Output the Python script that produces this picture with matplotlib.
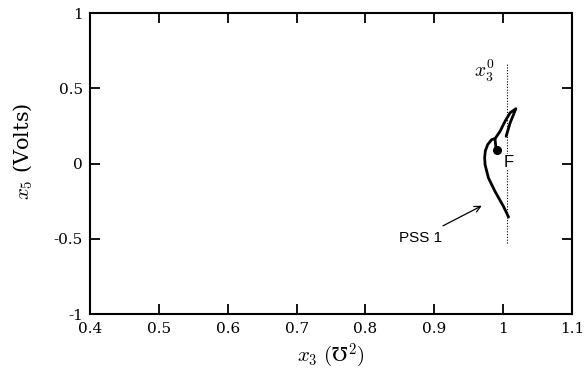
import matplotlib
matplotlib.use("Agg")
import matplotlib.pyplot as plt

plt.rcParams["mathtext.fontset"] = "cm"

# PSS 1 trajectory in the (x3, x5) plane
traj_x3 = [1.0042, 1.0100, 1.0150, 1.0183, 1.0100, 1.0027, 0.9954, 0.9880,
           0.9833, 0.9775, 0.9740, 0.9730, 0.9736, 0.9785, 0.9881, 1.0004,
           1.0077]
traj_x5 = [0.182, 0.271, 0.327, 0.365, 0.338, 0.282, 0.215, 0.165,
           0.160, 0.127, 0.085, 0.040, -0.007, -0.095, -0.185, -0.285,
           -0.355]
# short branch ending at the equilibrium point
branch_x3 = [0.9880, 0.9892, 0.9906]
branch_x5 = [0.165, 0.115, 0.089]
eq_x3, eq_x5 = 0.9906, 0.089

x30 = 1.006                 # reference value x3^0
x30_span = [-0.53, 0.67]

xticks = [0.4, 0.5, 0.6, 0.7, 0.8, 0.9, 1.0, 1.1]
xtick_labels = ["0.4", "0.5", "0.6", "0.7", "0.8", "0.9", "1", "1.1"]
yticks = [-1, -0.5, 0, 0.5, 1]
ytick_labels = ["-1", "-0.5", "0", "0.5", "1"]

fig = plt.figure(figsize=(5.88, 3.74), dpi=100)
ax = fig.add_axes([0.153, 0.160, 0.820, 0.805])

ax.plot([x30, x30], x30_span, color="black", lw=0.8, linestyle=(0, (1, 1.5)))
ax.plot(traj_x3, traj_x5, color="black", lw=2.0, solid_capstyle="round",
        solid_joinstyle="round")
ax.plot(branch_x3, branch_x5, color="black", lw=2.0)
ax.plot(eq_x3, eq_x5, "o", color="black", markersize=5.5)

ax.text(x30 - 0.034, 0.613, r"$x_3^0$", fontsize=14, ha="center", va="center")
ax.text(1.0085, 0.01, "F", fontsize=12, family="Liberation Sans",
        ha="center", va="center",
        bbox=dict(facecolor="white", edgecolor="none", pad=0.5))
ax.annotate("PSS 1", xy=(0.9688, -0.28), xytext=(0.9110, -0.491),
            fontsize=11, family="Liberation Sans", ha="right", va="center",
            arrowprops=dict(arrowstyle="->", color="black", lw=0.9,
                            shrinkA=3, shrinkB=0))

ax.set_xlim(0.4, 1.1)
ax.set_ylim(-1, 1)
ax.set_xticks(xticks)
ax.set_xticklabels(xtick_labels)
ax.set_yticks(yticks)
ax.set_yticklabels(ytick_labels)
ax.tick_params(direction="in", length=7, width=1.3, top=True, right=True,
               labelsize=11)
for lab in ax.get_xticklabels() + ax.get_yticklabels():
    lab.set_family("DejaVu Serif")
ax.tick_params(axis="x", pad=6)
ax.tick_params(axis="y", pad=5)
for s in ax.spines.values():
    s.set_linewidth(1.5)

ax.set_xlabel(r"$x_3\ (\mho^2)$", fontsize=15)
ax.set_ylabel(r"$x_5$ (Volts)", fontsize=15, family="DejaVu Serif")
ax.xaxis.set_label_coords(0.5, -0.09)
ax.yaxis.set_label_coords(-0.115, 0.54)

fig.savefig("out.png", dpi=100)
